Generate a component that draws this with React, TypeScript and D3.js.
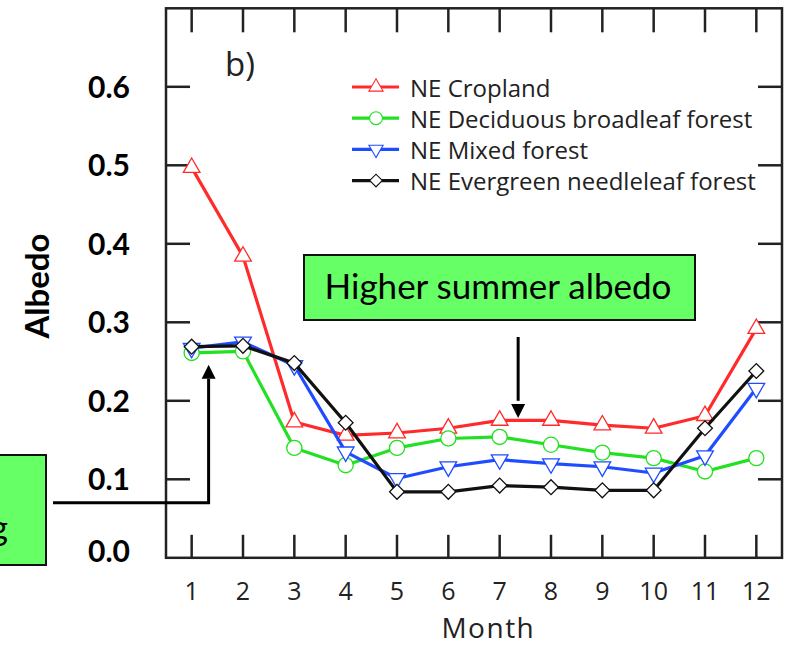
import { useEffect, useRef } from 'react';
import * as d3 from 'd3';

const months = [1, 2, 3, 4, 5, 6, 7, 8, 9, 10, 11, 12];
const cropland = [0.497, 0.384, 0.173, 0.156, 0.159, 0.165, 0.175, 0.175, 0.169, 0.165, 0.181, 0.292];
const deciduous = [0.261, 0.263, 0.14, 0.118, 0.14, 0.152, 0.154, 0.144, 0.134, 0.127, 0.11, 0.127];
const mixed = [0.267, 0.275, 0.245, 0.135, 0.101, 0.116, 0.125, 0.12, 0.116, 0.108, 0.13, 0.216];
const evergreen = [0.269, 0.27, 0.248, 0.172, 0.084, 0.084, 0.092, 0.09, 0.086, 0.086, 0.165, 0.238];
const yTicks = [0.0, 0.1, 0.2, 0.3, 0.4, 0.5, 0.6];

const seriesNames = [
	'NE Cropland',
	'NE Deciduous broadleaf forest',
	'NE Mixed forest',
	'NE Evergreen needleleaf forest',
];
const seriesColors = ['#ff2a2a', '#22e022', '#1f4cff', '#111111'];
const seriesMarkers = ['up', 'circle', 'down', 'diamond'];

const W = 786;
const H = 646;
// figure text (Myriad-like) and slide text (Calibri-like)
const FIG_FONT = '"Open Sans", sans-serif';
const SLIDE_FONT = 'Lato, sans-serif';

const App = () => {
	const ref = useRef<SVGSVGElement>(null);

	useEffect(() => {
		if (!ref.current) return;
		const svg = d3.select(ref.current);
		svg.selectAll('*').remove();

		const left = 166;
		const right = 782;
		const top = 8.3;
		const bottom = 557.8;

		const x = d3.scaleLinear().domain([0.5, 12.5]).range([left, right]);
		const y = d3.scaleLinear().domain([0, 0.7]).range([bottom, top]);

		const all = [cropland, deciduous, mixed, evergreen];

		const markerPath = (kind: string) => {
			if (kind === 'up' || kind === 'down') return d3.symbol(d3.symbolTriangle, 120)() ?? '';
			if (kind === 'circle') return d3.symbol(d3.symbolCircle, 180)() ?? '';
			return d3.symbol(d3.symbolSquare, 110)() ?? '';
		};
		const markerRot = (kind: string) =>
			kind === 'down' ? 180 : kind === 'diamond' ? 45 : 0;

		// frame
		svg.append('rect')
			.attr('x', left)
			.attr('y', top)
			.attr('width', right - left)
			.attr('height', bottom - top)
			.attr('fill', 'none')
			.attr('stroke', '#222')
			.attr('stroke-width', 2.5);

		// ticks, all pointing inward
		const tk = svg.append('g').attr('stroke', '#222').attr('stroke-width', 2.5);
		months.forEach((m) => {
			tk.append('line').attr('x1', x(m)).attr('x2', x(m)).attr('y1', bottom).attr('y2', bottom - 23);
			tk.append('line').attr('x1', x(m)).attr('x2', x(m)).attr('y1', top).attr('y2', top + 24);
		});
		yTicks.slice(1).forEach((v) => {
			tk.append('line').attr('x1', left).attr('x2', left + 24).attr('y1', y(v)).attr('y2', y(v));
			tk.append('line').attr('x1', right - 24).attr('x2', right).attr('y1', y(v)).attr('y2', y(v));
		});

		// tick labels
		svg.append('g')
			.selectAll('text')
			.data(months)
			.join('text')
			.attr('x', (d) => x(d))
			.attr('y', 600)
			.attr('text-anchor', 'middle')
			.style('font-family', FIG_FONT)
			.style('font-size', '25px')
			.style('fill', '#222')
			.text((d) => d);

		svg.append('g')
			.selectAll('text')
			.data(yTicks)
			.join('text')
			.attr('x', 130)
			.attr('y', (d) => y(d) + (d === 0 ? -8 : -1))
			.attr('text-anchor', 'end')
			.attr('dominant-baseline', 'central')
			.style('font-family', SLIDE_FONT)
			.style('font-weight', '700')
			.style('font-size', '30px')
			.style('fill', '#000')
			.text((d) => d.toFixed(1));

		svg.append('text')
			.attr('transform', `translate(36, 286) rotate(-90)`)
			.attr('text-anchor', 'middle')
			.attr('dominant-baseline', 'central')
			.style('font-family', SLIDE_FONT)
			.style('font-weight', '700')
			.style('font-size', '33px')
			.text('Albedo');

		svg.append('text')
			.attr('x', x(6.78))
			.attr('y', 637.5)
			.attr('text-anchor', 'middle')
			.style('font-family', FIG_FONT)
			.style('font-size', '28px')
			.style('letter-spacing', '1.5px')
			.style('fill', '#222')
			.text('Month');

		svg.append('text')
			.attr('x', 225)
			.attr('y', 76)
			.style('font-family', FIG_FONT)
			.style('font-size', '33px')
			.style('fill', '#222')
			.text('b)');

		// series
		const line = d3
			.line<number>()
			.x((_, i) => x(months[i]))
			.y((d) => y(d));

		all.forEach((vals, si) => {
			const g = svg.append('g');
			g.append('path')
				.attr('d', line(vals) ?? '')
				.attr('fill', 'none')
				.attr('stroke', seriesColors[si])
				.attr('stroke-width', 3.2)
				.attr('stroke-linejoin', 'round');
			g.selectAll('path.m')
				.data(vals)
				.join('path')
				.attr('class', 'm')
				.attr('d', markerPath(seriesMarkers[si]))
				.attr('transform', (d, i) => `translate(${x(months[i])},${y(d)}) rotate(${markerRot(seriesMarkers[si])})`)
				.attr('fill', '#fff')
				.attr('stroke', seriesColors[si])
				.attr('stroke-width', 1.3);
		});

		// legend
		const lg = svg.append('g');
		seriesNames.forEach((name, i) => {
			const ly = 87 + i * 31.2;
			lg.append('line')
				.attr('x1', 352)
				.attr('x2', 399)
				.attr('y1', ly)
				.attr('y2', ly)
				.attr('stroke', seriesColors[i])
				.attr('stroke-width', 3.2);
			lg.append('path')
				.attr('d', markerPath(seriesMarkers[i]))
				.attr('transform', `translate(376,${ly}) rotate(${markerRot(seriesMarkers[i])}) scale(0.85)`)
				.attr('fill', '#fff')
				.attr('stroke', seriesColors[i])
				.attr('stroke-width', 1.3);
			lg.append('text')
				.attr('x', 410)
				.attr('y', ly)
				.attr('dominant-baseline', 'central')
				.style('font-family', FIG_FONT)
				.style('font-size', '24px')
				.style('fill', '#222')
				.text(name);
		});

		// annotation: higher summer albedo
		svg.append('rect')
			.attr('x', 304)
			.attr('y', 255)
			.attr('width', 391)
			.attr('height', 65)
			.attr('fill', '#66ff66')
			.attr('stroke', '#111')
			.attr('stroke-width', 2);
		svg.append('text')
			.attr('x', 498)
			.attr('y', 299)
			.attr('text-anchor', 'middle')
			.style('font-family', SLIDE_FONT)
			.style('font-size', '35px')
			.style('fill', '#000')
			.text('Higher summer albedo');

		const ax = x(7.36);
		svg.append('line')
			.attr('x1', ax)
			.attr('x2', ax)
			.attr('y1', 337)
			.attr('y2', y(0.2))
			.attr('stroke', '#000')
			.attr('stroke-width', 3);
		svg.append('path')
			.attr('d', `M${ax - 7},${y(0.196)} L${ax + 7},${y(0.196)} L${ax},${y(0.178)} Z`)
			.attr('fill', '#000');

		// annotation: left box, cut off by the slide edge
		svg.append('rect')
			.attr('x', -20)
			.attr('y', 455)
			.attr('width', 66)
			.attr('height', 110)
			.attr('fill', '#66ff66')
			.attr('stroke', '#111')
			.attr('stroke-width', 2);
		svg.append('text')
			.attr('x', 8)
			.attr('y', 540)
			.attr('text-anchor', 'end')
			.style('font-family', SLIDE_FONT)
			.style('font-size', '34px')
			.style('fill', '#000')
			.text('g');

		const bx = x(1.33);
		const hy = y(0.07);
		svg.append('path')
			.attr('d', `M53,${hy} H${bx} V${y(0.228)}`)
			.attr('fill', 'none')
			.attr('stroke', '#000')
			.attr('stroke-width', 3);
		svg.append('path')
			.attr('d', `M${bx - 7},${y(0.228)} L${bx + 7},${y(0.228)} L${bx},${y(0.246)} Z`)
			.attr('fill', '#000');
	}, []);

	return (
		<svg
			ref={ref}
			width={W}
			height={H}
			style={{ position: 'absolute', left: 0, top: 0, background: '#fff' }}
		></svg>
	);
};

export default App;
